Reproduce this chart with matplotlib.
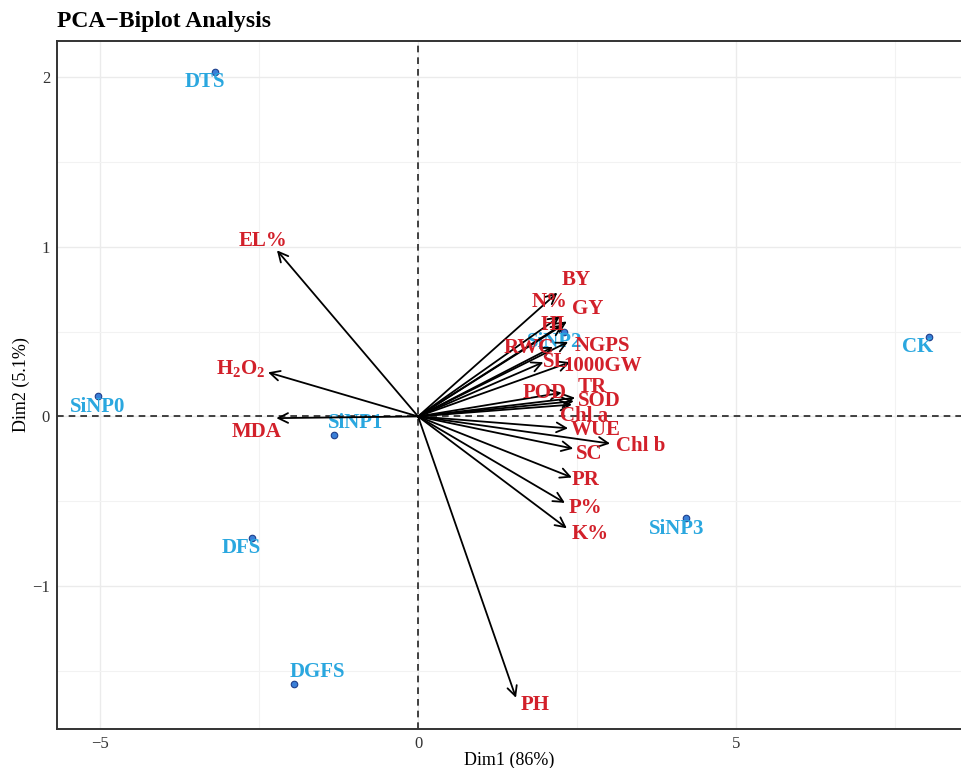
import matplotlib.pyplot as plt
import numpy as np

plt.rcParams['font.family'] = ['Liberation Serif', 'DejaVu Serif']
plt.rcParams['mathtext.fontset'] = 'custom'
plt.rcParams['mathtext.rm'] = 'Liberation Serif'
plt.rcParams['mathtext.bf'] = 'Liberation Serif:bold'

# variable loadings (arrow tips) on Dim1 / Dim2
variables = ['EL%', r'$\mathbf{H_2O_2}$', 'MDA', 'BY', 'N%', 'GY', 'HI', 'RWC', 'NGPS', 'SL',
             '1000GW', 'TR', 'POD', 'SOD', 'Chl a', 'WUE', 'Chl b', 'SC', 'PR',
             'P%', 'K%', 'PH']
var_dim1 = [-2.22, -2.36, -2.23, 2.19, 2.23, 2.34, 2.28, 2.12, 2.36, 1.97,
            2.39, 2.47, 2.26, 2.45, 2.42, 2.36, 3.02, 2.44, 2.42, 2.31, 2.34, 1.54]
var_dim2 = [0.98, 0.26, -0.01, 0.73, 0.59, 0.56, 0.54, 0.41, 0.44, 0.32,
            0.32, 0.11, 0.14, 0.09, 0.07, -0.07, -0.16, -0.19, -0.36, -0.51, -0.66, -1.66]

# treatment scores
groups = ['DTS', 'SiNP0', 'SiNP1', 'DFS', 'DGFS', 'CK', 'SiNP3', 'SiNP2']
grp_dim1 = [-3.19, -5.03, -1.32, -2.61, -1.95, 8.03, 4.21, 2.30]
grp_dim2 = [2.03, 0.12, -0.11, -0.72, -1.58, 0.47, -0.60, 0.50]

# label placement (pixels from the mark)
var_offsets = [(-14, 9), (-27, 4), (-20, -14), (19, 13), (-10, 14), (21, 13), (-10, 0),
               (-24, -1), (34, -4), (12, 0), (33, -4), (17, 11), (-17, 0), (25, 0),
               (12, -11), (28, -2), (31, -2), (16, -5), (14, -3), (20, -5), (23, -6),
               (19, -7)]
grp_offsets = [(-10, -10), (-1, -11), (21, 12), (-11, -10), (23, 12), (-11, -10),
               (-9, -11), (-10, -10)]

red = '#D2202A'
blue = '#2AA7DF'

fig = plt.figure(figsize=(9.61, 7.68), dpi=100)
ax = fig.add_axes([0.0593, 0.0508, 0.9407, 0.8958])

ax.set_xlim(-5.68, 8.54)
ax.set_ylim(-1.844, 2.215)

# grid
ax.set_xticks([-5, 0, 5])
ax.set_xticks([-2.5, 2.5, 7.5], minor=True)
ax.set_yticks([-1, 0, 1, 2])
ax.set_yticks([-1.5, -0.5, 0.5, 1.5], minor=True)
ax.grid(which='major', color='#EBEBEB', linewidth=1.0)
ax.grid(which='minor', color='#F2F2F2', linewidth=0.8)
ax.set_axisbelow(True)
ax.tick_params(which='both', length=0, labelsize=12, colors='#333333', pad=5)
ax.set_xticklabels(['\u22125', '0', '5'])
ax.set_yticklabels(['\u22121', '0', '1', '2'])

for side in ['left', 'top', 'bottom']:
    ax.spines[side].set_color('#333333')
    ax.spines[side].set_linewidth(1.4)
ax.spines['right'].set_visible(False)

ax.axhline(0, color='#222222', linestyle=(0, (4, 3)), linewidth=1.2, zorder=1)
ax.axvline(0, color='#222222', linestyle=(0, (4, 3)), linewidth=1.2, zorder=1)

# individuals
ax.scatter(grp_dim1, grp_dim2, s=22, color='#3A7FD8', edgecolor='#1E3F8C',
           linewidth=0.8, zorder=3)
for name, gx, gy, (dx, dy) in zip(groups, grp_dim1, grp_dim2, grp_offsets):
    ax.annotate(name, (gx, gy), xytext=(dx, dy), textcoords='offset pixels',
                ha='center', va='center', color=blue, fontsize=15,
                fontweight='bold', zorder=4)

# variable arrows
for name, vx, vy, (dx, dy) in zip(variables, var_dim1, var_dim2, var_offsets):
    ax.annotate('', xy=(vx, vy), xytext=(0, 0),
                arrowprops=dict(arrowstyle='->,head_length=0.7,head_width=0.35',
                                color='black', lw=1.3, shrinkA=0, shrinkB=0),
                zorder=5)
    ax.annotate(name, (vx, vy), xytext=(dx, dy), textcoords='offset pixels',
                ha='center', va='center', color=red, fontsize=15,
                fontweight='bold', zorder=6)

ax.set_xlabel('Dim1 (86%)', fontsize=13, labelpad=0)
ax.set_ylabel('Dim2 (5.1%)', fontsize=13, labelpad=2)
fig.text(0.0593, 0.972, 'PCA\u2212Biplot Analysis', fontsize=17,
         fontweight='bold', ha='left', va='center')

fig.savefig('out.png', dpi=100)
